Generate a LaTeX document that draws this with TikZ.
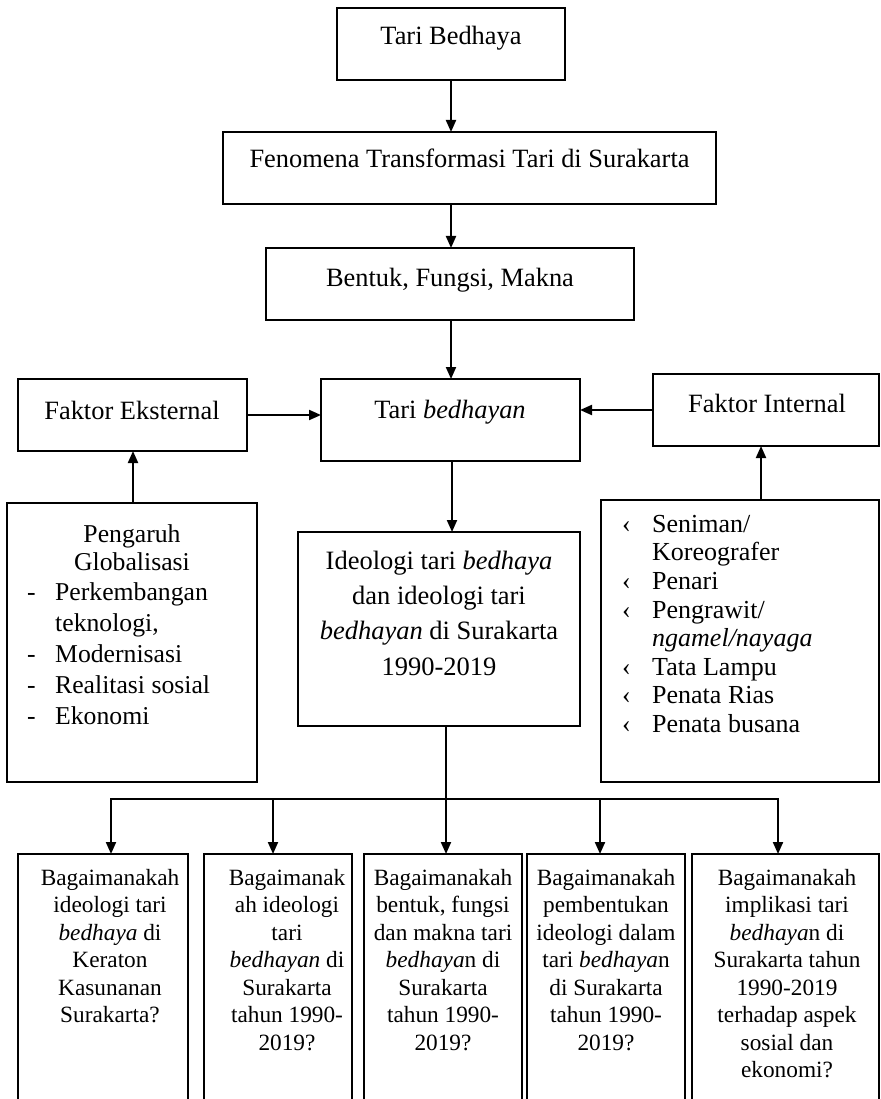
\documentclass[tikz,border=0pt]{standalone}
\usepackage{fontspec}
\setmainfont{Liberation Serif}
\usetikzlibrary{arrows.meta}
\newcommand\LBh{\makebox[28pt][l]{-}}
\newcommand\RBh{\makebox[30pt][l]{‹}}
\tikzset{
  box/.style={draw, line width=1.8pt, inner sep=0pt, outer sep=0pt, anchor=north west},
  arr/.style={line width=2pt, -{Triangle[length=12pt,width=10pt]}},
  ln/.style={line width=2pt},
  tbig/.style={font=\fontsize{26.4}{32}\selectfont, inner sep=0pt, anchor=base},
  tlist/.style={inner sep=0pt, anchor=north west},
  tq/.style={font=\fontsize{23.3}{27.5}\selectfont, inner sep=0pt, anchor=north},
}
\begin{document}
\begin{tikzpicture}[x=1pt,y=-1pt]
\useasboundingbox (0,0) rectangle (880,1099);
\clip (0,0) rectangle (880,1099);
% boxes
\node[box, minimum width=228pt, minimum height=72pt] (tbed) at (337,8) {};
\node[box, minimum width=493pt, minimum height=72pt] (fen) at (223,132) {};
\node[box, minimum width=368pt, minimum height=72pt] (bfm) at (266,248) {};
\node[box, minimum width=259pt, minimum height=82pt] (tb) at (321,379) {};
\node[box, minimum width=229pt, minimum height=72pt] (fe) at (18,379) {};
\node[box, minimum width=226pt, minimum height=72pt] (fi) at (653,374) {};
\node[box, minimum width=250pt, minimum height=279pt] (lb) at (7,503) {};
\node[box, minimum width=278pt, minimum height=282pt] (rb) at (601,500) {};
\node[box, minimum width=282pt, minimum height=194pt] (ideo) at (298,532) {};
\node[box, minimum width=170pt, minimum height=260pt] (q1) at (18,854) {};
\node[box, minimum width=148pt, minimum height=260pt] (q2) at (204,854) {};
\node[box, minimum width=158pt, minimum height=260pt] (q3) at (364,854) {};
\node[box, minimum width=158pt, minimum height=260pt] (q4) at (527,854) {};
\node[box, minimum width=187pt, minimum height=260pt] (q5) at (692,854) {};
% texts
\node[tbig] (tbedt) at (451,45) {Tari Bedhaya};
\node[tbig] (fent) at (469.5,168) {Fenomena Transformasi Tari di Surakarta};
\node[tbig] (bfmt) at (450,286) {Bentuk, Fungsi, Makna};
\node[tbig] (tbt) at (450,418) {Tari \textit{bedhayan}};
\node[tbig] (fet) at (132,419) {Faktor Eksternal};
\node[tbig] (fit) at (767,412) {Faktor Internal};
\node[tlist, anchor=north, font=\fontsize{25.7}{28.5}\selectfont] (lbt) at (132,522) {\begin{tabular}{@{}c@{}}Pengaruh\\Globalisasi\end{tabular}};
\node[tlist, font=\fontsize{25.7}{31}\selectfont] (lbl) at (27,578.3) {\begin{tabular}{@{}l@{}l@{}}\LBh&Perkembangan\\&teknologi,\\\LBh&Modernisasi\\\LBh&Realitasi sosial\\\LBh&Ekonomi\end{tabular}};
\node[tlist, font=\fontsize{26}{28.6}\selectfont] (rbl) at (622,512) {\begin{tabular}{@{}l@{}l@{}}\RBh&Seniman/\\&Koreografer\\\RBh&Penari\\\RBh&Pengrawit/\\&\textit{ngamel/nayaga}\\\RBh&Tata Lampu\\\RBh&Penata Rias\\\RBh&Penata busana\end{tabular}};
\node[tq, font=\fontsize{26.5}{35.3}\selectfont] (ideot) at (439,544.3) {\begin{tabular}{@{}c@{}}Ideologi tari \textit{bedhaya}\\dan ideologi tari\\\textit{bedhayan} di Surakarta\\1990-2019\end{tabular}};
\node[tq] (q1t) at (110,865.75) {\begin{tabular}{@{}c@{}}Bagaimanakah\\ideologi tari\\\textit{bedhaya} di\\Keraton\\Kasunanan\\Surakarta?\end{tabular}};
\node[tq] (q2t) at (287,865.75) {\begin{tabular}{@{}c@{}}Bagaimanak\\ah ideologi\\tari\\\textit{bedhayan} di\\Surakarta\\tahun 1990-\\2019?\end{tabular}};
\node[tq] (q3t) at (443,865.75) {\begin{tabular}{@{}c@{}}Bagaimanakah\\bentuk, fungsi\\dan makna tari\\\textit{bedhaya}n di\\Surakarta\\tahun 1990-\\2019?\end{tabular}};
\node[tq] (q4t) at (606,865.75) {\begin{tabular}{@{}c@{}}Bagaimanakah\\pembentukan\\ideologi dalam\\tari \textit{bedhaya}n\\di Surakarta\\tahun 1990-\\2019?\end{tabular}};
\node[tq] (q5t) at (787,865.75) {\begin{tabular}{@{}c@{}}Bagaimanakah\\implikasi tari\\\textit{bedhaya}n di\\Surakarta tahun\\1990-2019\\terhadap aspek\\sosial dan\\ekonomi?\end{tabular}};
% connectors
\draw[arr] (tbed.south) -- (tbed.south |- fen.north);
\draw[arr] (tbed.south |- fen.south) -- (tbed.south |- bfm.north);
\draw[arr] (tbed.south |- bfm.south) -- (tbed.south |- tb.north);
\draw[arr] (fe.east) -- (fe.east -| tb.west);
\draw[arr] (fi.west) -- (fi.west -| tb.east);
\draw[arr] ([xshift=1pt]lb.north) -- ([xshift=1pt]lb.north |- fe.south);
\draw[arr] ([xshift=21pt]rb.north) -- ([xshift=21pt]rb.north |- fi.south);
\draw[arr] ([xshift=1.5pt]tb.south) -- ([xshift=1.5pt]tb.south |- ideo.north);
\coordinate (j1) at (111,799);
\coordinate (j2) at (273,799);
\coordinate (j4) at (600,799);
\coordinate (j5) at (778,799);
\draw[arr] ([xshift=7pt]ideo.south) -- ([xshift=7pt]ideo.south |- q3.north);
\draw[arr] (j2) -- (j1) -- (j1 |- q1.north);
\draw[arr] (j4) -- (j5) -- (j5 |- q5.north);
\draw[ln] (j2) -- (j4);
\draw[arr] (j2) -- (j2 |- q2.north);
\draw[arr] (j4) -- (j4 |- q4.north);
\end{tikzpicture}
\end{document}
